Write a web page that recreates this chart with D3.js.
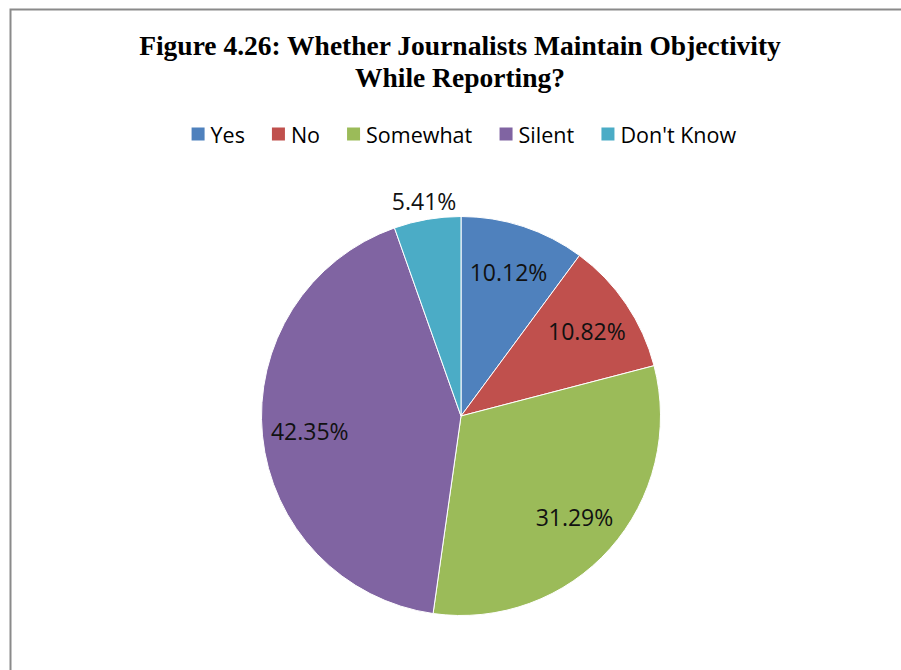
<!DOCTYPE html>
<html>
<head>
<meta charset="utf-8">
<script src="https://cdn.jsdelivr.net/npm/d3@7"></script>
<style>
  html, body { margin: 0; padding: 0; background: #fff; overflow: hidden; }
  svg { display: block; }
</style>
</head>
<body>
<svg id="chart" width="901" height="670"></svg>
<script>
// Survey responses: do journalists maintain objectivity while reporting?
const categories = ["Yes", "No", "Somewhat", "Silent", "Don't Know"];
const shares = [10.12, 10.82, 31.29, 42.35, 5.41];
const colours = ["#4F81BD", "#C0504D", "#9BBB59", "#8064A2", "#4BACC6"];
const titleLines = ["Figure 4.26: Whether Journalists Maintain Objectivity", "While Reporting?"];

const svg = d3.select("#chart");

// chart frame: only its top and left edges lie inside the view
svg.append("path")
  .attr("d", "M10.5,670 V9.5 H901")
  .attr("fill", "none")
  .attr("stroke", "#8a8a8a")
  .attr("stroke-width", 2);

// title
const title = svg.append("text")
  .attr("text-anchor", "middle")
  .attr("font-family", "'Liberation Serif', 'Times New Roman', serif")
  .attr("font-weight", "bold")
  .attr("font-size", 27.5)
  .attr("fill", "#000");
title.selectAll("tspan").data(titleLines).join("tspan")
  .attr("x", 460)
  .attr("y", (d, i) => 55 + i * 32)
  .text(d => d);

// legend
const colour = d3.scaleOrdinal().domain(categories).range(colours);
const legendFont = "'Open Sans', 'Noto Sans', sans-serif";
const legend = svg.append("g").attr("transform", "translate(0,134)");
const items = legend.selectAll("g").data(categories).join("g");
items.append("rect")
  .attr("y", -6.5).attr("width", 13).attr("height", 13)
  .attr("fill", d => colour(d));
items.append("text")
  .attr("x", 19).attr("y", 0)
  .attr("dominant-baseline", "central")
  .attr("font-family", legendFont)
  .attr("font-size", 21.5)
  .attr("fill", "#000")
  .text(d => d);
// lay items out left to right with a fixed gap, centred on the chart
const widths = [];
items.each(function () { widths.push(this.getBBox().width); });
const gap = 27;
const legendWidth = d3.sum(widths) + gap * (widths.length - 1);
let x0 = 464 - legendWidth / 2;
items.attr("transform", (d, i) => {
  const t = `translate(${x0},0)`;
  x0 += widths[i] + gap;
  return t;
});

// pie
const cx = 461, cy = 416, R = 199.5;
const pie = d3.pie().sort(null).value(d => d.v);
const data = categories.map((c, i) => ({ c, v: shares[i] }));
const arcs = pie(data);
const arc = d3.arc().innerRadius(0).outerRadius(R);
const g = svg.append("g").attr("transform", `translate(${cx},${cy})`);

g.selectAll("path").data(arcs).join("path")
  .attr("d", arc)
  .attr("fill", d => colour(d.data.c))
  .attr("stroke", "#fff")
  .attr("stroke-width", 1);

// value labels: inside for large slices, just outside for small ones
const sum = d3.sum(shares);
const inner = d3.arc().innerRadius(152 * 2).outerRadius(0); // centroid at r = 152
const outer = d3.arc().innerRadius((R + 19) * 2).outerRadius(0);
g.selectAll("text.val").data(arcs).join("text")
  .attr("class", "val")
  .attr("transform", d => {
    const a = d.data.v / sum < 0.08 ? outer : inner;
    const [x, y] = a.centroid(d);
    return `translate(${x},${y})`;
  })
  .attr("text-anchor", "middle")
  .attr("dominant-baseline", "central")
  .attr("font-family", legendFont)
  .attr("font-size", 23)
  .attr("fill", "#111")
  .text(d => d.data.v.toFixed(2) + "%");
</script>
</body>
</html>
